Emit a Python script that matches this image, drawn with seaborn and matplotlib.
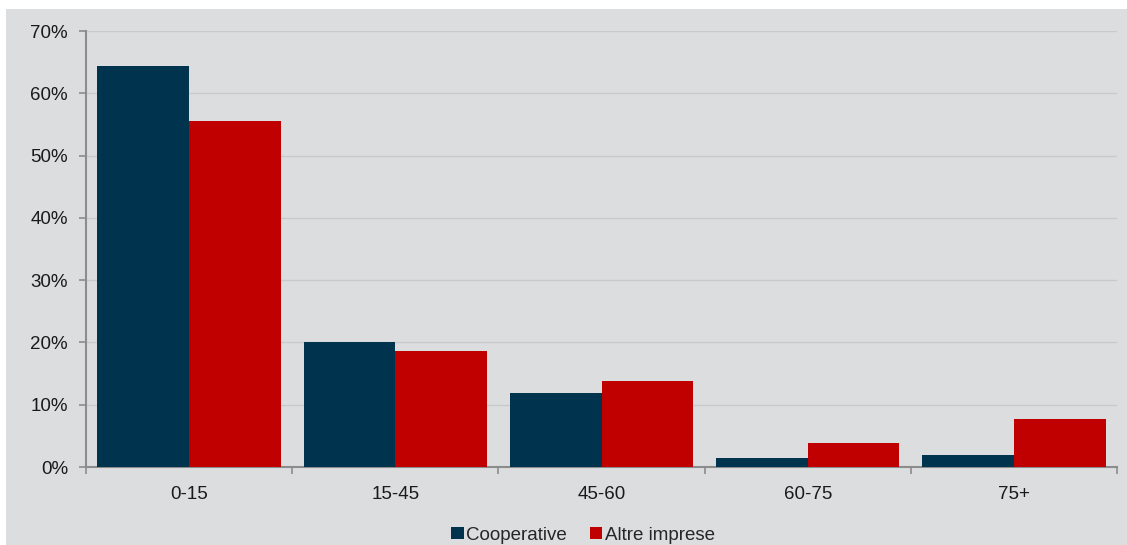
import matplotlib
matplotlib.use("Agg")
import matplotlib.pyplot as plt
import seaborn as sns
import pandas as pd
from matplotlib.patches import Rectangle
from matplotlib.ticker import FuncFormatter, FixedLocator

categories = ["0-15", "15-45", "45-60", "60-75", "75+"]
series_names = ["Cooperative", "Altre imprese"]
cooperative = [64.4, 20.0, 11.9, 1.4, 1.9]
altre_imprese = [55.5, 18.6, 13.8, 3.9, 7.7]
y_ticks = [0, 10, 20, 30, 40, 50, 60, 70]

df = pd.DataFrame({
    "cat": categories * 2,
    "serie": [series_names[0]] * len(categories) + [series_names[1]] * len(categories),
    "val": cooperative + altre_imprese,
})

sns.set_theme(style="white")
plt.rcParams["font.family"] = ["Liberation Sans", "DejaVu Sans"]

W, H = 1127, 545
fig = plt.figure(figsize=(W / 100, H / 100), dpi=100, facecolor="white")
bg = "#DCDDDF"
fig.patches.append(Rectangle((6 / W, 0), (W - 6) / W, (H - 9) / H,
                             transform=fig.transFigure, facecolor=bg,
                             edgecolor="none", zorder=-10))
ax = fig.add_axes([86 / W, 1 - 467 / H, (1117 - 86) / W, (467 - 31) / H])
ax.set_facecolor(bg)

palette = {"Cooperative": "#00334D", "Altre imprese": "#C00000"}
sns.barplot(data=df, x="cat", y="val", hue="serie", order=categories,
            hue_order=series_names, palette=palette, width=0.89,
            saturation=1, ax=ax, legend=True, zorder=3, linewidth=0)

ax.set_xlim(-0.5, len(categories) - 0.5)
ax.set_ylim(0, 70)
ax.yaxis.set_major_locator(FixedLocator(y_ticks))
ax.yaxis.set_major_formatter(FuncFormatter(lambda v, p: f"{int(v)}%"))
ax.grid(axis="y", color="#C8C9CB", linewidth=1, zorder=0)
ax.set_axisbelow(True)

# x ticks at category boundaries, labels centered
ax.set_xticks([i - 0.5 for i in range(len(categories) + 1)], minor=False)
ax.set_xticklabels([])
ax.set_xticks(range(len(categories)), minor=True)
ax.set_xticklabels(categories, minor=True)
ax.tick_params(axis="x", which="major", bottom=True, length=5, width=1.2,
               color="#8C8C8C", direction="out")
ax.tick_params(axis="x", which="minor", bottom=True, length=0, pad=14,
               labelsize=13.5, labelcolor="#1a1a1a")
ax.tick_params(axis="y", which="major", left=True, length=5, width=1.2,
               color="#8C8C8C", direction="out", pad=8,
               labelsize=13.5, labelcolor="#1a1a1a")

for s in ["top", "right"]:
    ax.spines[s].set_visible(False)
for s in ["left", "bottom"]:
    ax.spines[s].set_color("#8C8C8C")
    ax.spines[s].set_linewidth(1.5)

ax.set_xlabel("")
ax.set_ylabel("")

handles, labels = ax.get_legend_handles_labels()
ax.get_legend().remove()
for h in handles:
    h.set_edgecolor("none")
fig.legend(handles, labels, loc="center", bbox_to_anchor=(583 / W, 1 - 535 / H),
           ncol=2, frameon=False, fontsize=13.5, handlelength=0.65, handleheight=0.65,
           handletextpad=0.15, columnspacing=1.2, borderaxespad=0)

fig.savefig("out.png", dpi=100, facecolor="white")
